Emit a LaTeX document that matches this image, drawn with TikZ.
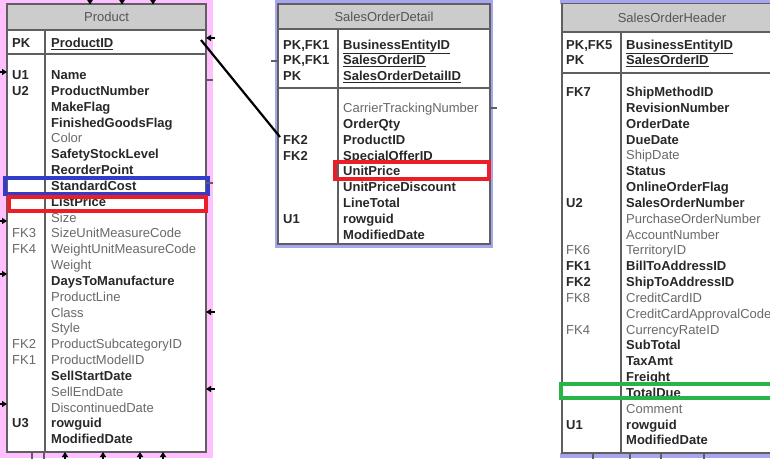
\documentclass[tikz,border=0pt]{standalone}
\usepackage{fontspec}
\setmainfont{Liberation Sans}
\usetikzlibrary{arrows.meta}
\definecolor{pinkbg}{RGB}{255,192,255}
\definecolor{lavbg}{RGB}{165,165,240}
\definecolor{hdrgray}{RGB}{204,204,204}
\definecolor{bordergray}{RGB}{95,95,95}
\definecolor{boldtext}{RGB}{40,40,40}
\definecolor{regtext}{RGB}{105,105,105}
\definecolor{hdrtext}{RGB}{85,85,85}
\definecolor{hlblue}{RGB}{50,60,200}
\definecolor{hlred}{RGB}{235,30,40}
\definecolor{hlgreen}{RGB}{40,180,70}
\begin{document}
\begin{tikzpicture}[x=1pt,y=-1pt,
  font=\fontsize{13}{15}\selectfont,
  fb/.style={anchor=base west,inner sep=0pt,text=boldtext,font=\fontsize{13}{15}\selectfont\bfseries},
  fr/.style={anchor=base west,inner sep=0pt,text=regtext},
  hdr/.style={inner sep=0pt,text=hdrtext},
  tbl/.style={draw=bordergray,line width=1.4pt},
  hl/.style={line width=3.3pt},
  stub/.style={draw=bordergray,line width=1.2pt},
  stubarrow/.style={draw=black,line width=1.2pt,-{Triangle[length=5pt,width=6pt]}}]
\useasboundingbox (0,0) rectangle (770,458);
% backgrounds
\fill[white] (0,0) rectangle (770,458);
\fill[pinkbg] (0,0) rectangle (213,458);
\fill[lavbg] (275,0) rectangle (493,248);
\fill[lavbg] (560,0) rectangle (772,3.5);
\fill[lavbg] (560,452.5) rectangle (772,458);

% ---------- Product ----------
\fill[white] (7,4) rectangle (206,452);
\fill[hdrgray] (7,4) rectangle (206,30);
\draw[tbl] (7,4) rectangle (206,452);
\draw[tbl] (7,30) -- (206,30);
\draw[tbl] (7,54) -- (206,54);
\draw[tbl] (45,30) -- (45,452);
\node[hdr] (ptitle) at (106.5,17) {Product};
\node[fb] (pk0) at (12,47.6) {PK};
\node[fb] (pf0) at (51,47.6) {\underline{ProductID}};
\foreach \f/\s [count=\i] in {Name/fb,ProductNumber/fb,MakeFlag/fb,FinishedGoodsFlag/fb,Color/fr,SafetyStockLevel/fb,ReorderPoint/fb,StandardCost/fb,ListPrice/fb,Size/fr,SizeUnitMeasureCode/fr,WeightUnitMeasureCode/fr,Weight/fr,DaysToManufacture/fb,ProductLine/fr,Class/fr,Style/fr,ProductSubcategoryID/fr,ProductModelID/fr,SellStartDate/fb,SellEndDate/fr,DiscontinuedDate/fr,rowguid/fb,ModifiedDate/fb}
  \node[style=\s] (pf\i) at (51,{75+15.83*(\i-1)+4.6}) {\f};
\foreach \k/\r/\s in {U1/1/fb,U2/2/fb,FK3/11/fr,FK4/12/fr,FK2/18/fr,FK1/19/fr,U3/23/fb}
  \node[style=\s] (pk\r) at (12,{75+15.83*(\r-1)+4.6}) {\k};

% ---------- SalesOrderDetail ----------
\fill[white] (278,4) rectangle (490,244);
\fill[hdrgray] (278,4) rectangle (490,29);
\draw[tbl] (278,4) rectangle (490,244);
\draw[tbl] (278,29) -- (490,29);
\draw[tbl] (278,88) -- (490,88);
\draw[tbl] (338,29) -- (338,244);
\node[hdr] (dtitle) at (384,16.5) {SalesOrderDetail};
\foreach \k/\f [count=\i] in {{PK,FK1}/BusinessEntityID,{PK,FK1}/SalesOrderID,PK/SalesOrderDetailID}{
  \node[fb] (dk0\i) at (283,{44.5+15.8*(\i-1)+4.6}) {\k};
  \node[fb] (df0\i) at (343,{44.5+15.8*(\i-1)+4.6}) {\underline{\f}};
}
\foreach \f/\s [count=\i] in {CarrierTrackingNumber/fr,OrderQty/fb,ProductID/fb,SpecialOfferID/fb,UnitPrice/fb,UnitPriceDiscount/fb,LineTotal/fb,rowguid/fb,ModifiedDate/fb}
  \node[style=\s] (df\i) at (343,{108+15.8*(\i-1)+4.6}) {\f};
\foreach \k/\r in {FK2/3,FK2/4,U1/8}
  \node[fb] (dk\r) at (283,{108+15.8*(\r-1)+4.6}) {\k};

% ---------- SalesOrderHeader ----------
\fill[white] (562,3.5) rectangle (775,453);
\fill[hdrgray] (562,3.5) rectangle (775,32);
\draw[tbl] (562,3.5) rectangle (775,453);
\draw[tbl] (562,32) -- (775,32);
\draw[tbl] (562,73) -- (775,73);
\draw[tbl,line width=1.8pt] (621,32) -- (621,453);
\node[hdr] (htitle) at (672,18) {SalesOrderHeader};
\foreach \k/\f [count=\i] in {{PK,FK5}/BusinessEntityID,PK/SalesOrderID}{
  \node[fb] (hk0\i) at (566,{44.5+15.8*(\i-1)+4.6}) {\k};
  \node[fb] (hf0\i) at (626,{44.5+15.8*(\i-1)+4.6}) {\underline{\f}};
}
\foreach \f/\s [count=\i] in {ShipMethodID/fb,RevisionNumber/fb,OrderDate/fb,DueDate/fb,ShipDate/fr,Status/fb,OnlineOrderFlag/fb,SalesOrderNumber/fb,PurchaseOrderNumber/fr,AccountNumber/fr,TerritoryID/fr,BillToAddressID/fb,ShipToAddressID/fb,CreditCardID/fr,CreditCardApprovalCode/fr,CurrencyRateID/fr,SubTotal/fb,TaxAmt/fb,Freight/fb,TotalDue/fb,Comment/fr,rowguid/fb,ModifiedDate/fb}
  \node[style=\s] (hf\i) at (626,{92+15.83*(\i-1)+4.6}) {\f};
\foreach \k/\r/\s in {FK7/1/fb,U2/8/fb,FK6/11/fr,FK1/12/fb,FK2/13/fb,FK8/14/fr,FK4/16/fr,U1/22/fb}
  \node[style=\s] (hk\r) at (566,{92+15.83*(\r-1)+4.6}) {\k};

% ---------- highlight boxes ----------
\draw[hl,hlblue] (5,178) rectangle (208,194);
\draw[hl,hlred] (9,197) rectangle (206,211);
\draw[hl,hlred] (335,162) rectangle (489,179);
\draw[hl,hlgreen] (561,384) rectangle (776,398);

% ---------- connector stubs ----------
\foreach \x in {90,122,153} \draw[stubarrow] (\x,-2) -- (\x,4.5);
\foreach \y in {72,221,274,404} \draw[stubarrow] (-2,\y) -- (7,\y);
\foreach \y in {38,312,389} \draw[stubarrow] (215,\y) -- (206,\y);
\foreach \y in {80,183} \draw[stub] (206,\y) -- (213,\y);
\foreach \x in {32,44} \draw[stub] (\x,452) -- (\x,460);
\foreach \x in {65,103,140,163} \draw[stubarrow] (\x,460) -- (\x,452);
\draw[stub] (271,61) -- (278,61);
\draw[stub] (490,108) -- (497,108);
\foreach \x in {593,630,661,704} \draw[stub] (\x,453) -- (\x,460);

% ---------- relationship line ----------
\coordinate (relA) at (201,40);
\coordinate (relB) at (280,137);
\draw[black,line width=2.2pt] (relA) -- (relB);
\end{tikzpicture}
\end{document}
